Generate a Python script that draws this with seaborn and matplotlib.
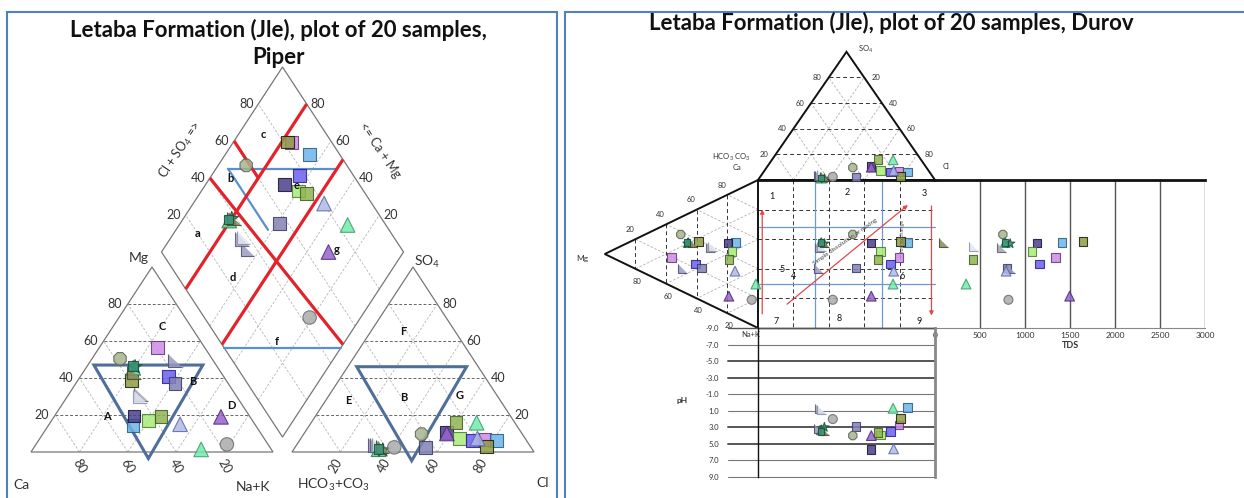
# -*- coding: utf-8 -*-
"""
Letaba Formation (Jle) - Piper and Durov plots of 20 samples
"""

import numpy as np
import seaborn as sns
import matplotlib.pyplot as plt
from matplotlib.patches import Polygon, Rectangle

sns.set_theme(style="white")
plt.rcParams['font.family'] = ['Lato', 'DejaVu Sans']
plt.rcParams['mathtext.fontset'] = 'custom'
plt.rcParams['mathtext.rm'] = 'Lato'
plt.rcParams['mathtext.it'] = 'Lato'
plt.rcParams['mathtext.bf'] = 'Lato:bold'

# -----------------------------
# Sample data (% meq/l), TDS (mg/l), pH axis value
# -----------------------------
samples = [f"JLE{i:02d}" for i in range(1, 21)]
ca   = [19.6, 50.6, 47.7, 43.0, 36.8, 22.8, 22.0, 39.0, 38.0, 35.0, 29.0, 34.0, 15.7, 30.9, 12.0, 17.0, 39.0, 40.0, 36.0, 34.5]
mg   = [56.3, 14.5, 19.5, 17.0, 19.0, 40.9, 37.0, 38.7, 50.4, 45.5, 1.4, 46.0, 49.5, 15.0, 19.0, 4.1, 31.2, 30.0, 43.0, 46.5]
nak  = [24.1, 34.9, 32.8, 40.0, 44.2, 36.3, 41.0, 22.3, 11.6, 19.5, 69.6, 20.0, 34.8, 54.1, 69.0, 78.9, 29.8, 30.0, 21.0, 19.0]
hco3 = [16.9, 12.6, 30.9, 27.0, 24.3, 22.2, 43.5, 18.2, 41.6, 63.5, 15.8, 62.0, 63.8, 19.7, 31.0, 56.5, 63.2, 62.0, 61.0, 63.5]
so4  = [6.8, 6.1, 10.4, 7.3, 15.8, 6.1, 2.5, 2.8, 9.7, 1.5, 15.8, 1.0, 3.8, 7.3, 10.0, 2.5, 3.8, 4.0, 3.0, 1.5]
cl   = [76.3, 81.3, 58.7, 65.7, 59.9, 71.7, 54.0, 79.0, 48.7, 35.0, 68.4, 37.0, 32.4, 73.0, 59.0, 41.0, 33.0, 34.0, 36.0, 35.0]
tds  = [1336, 1410, 1132, 1077, 420, 1161, 798, 1644, 754, 780, 345, 835, 835, 790, 1496, 816, 742, 427, 93, 780]
ph   = [2.7, 0.6, 5.7, 3.9, 3.6, 3.5, 2.9, 1.9, 4.0, 3.3, 0.7, 3.0, 3.2, 5.6, 4.0, 2.0, 0.7, 0.9, 3.4, 3.5]

RT = [(-1, 1), (-1, -1), (1, -1)]   # right-angle triangle marker
marker = ['s', 's', 's', 's', 's', 's', 's', 's', '8', '^',
          '^', '*', RT, '^', '^', 'o', RT, RT, RT, 's']
msize = [1.0, 1.0, 1.0, 1.0, 1.0, 1.0, 1.0, 1.0, 1.1, 1.3,
         1.3, 1.3, 1.1, 1.3, 1.3, 1.1, 1.1, 1.1, 1.1, 0.55]
face = ['#d08ae8', '#6cb4ea', '#4b3f8c', '#a8ec78', '#8fb452', '#6c5ff0', '#8282b4', '#8f9c44', '#a6b48e', '#5fd88f',
        '#72ecab', '#2f8a68', '#9a9ac0', '#b2bae6', '#9564cc', '#ababab', '#a4a4b6', '#e2e4f0', '#8a8a5c', '#3a9478']
edge = ['#5a3a70', '#2a5a80', '#151230', '#4a7a30', '#3f5a20', '#2a2080', '#3a3a60', '#1a1a10', '#5a6050', '#2a7a4a',
        '#3a9a6a', '#1d5040', '#4a4a70', '#5a68a8', '#4a2a7a', '#6a6a6a', '#5a5a70', '#8890b0', '#45452a', '#1a4a38']

# -----------------------------
# Figure / axes helpers (reference pixel layout)
# -----------------------------
W, H = 1244, 498
fig = plt.figure(figsize=(W / 100, H / 100), dpi=100)


def px_axes(x0, y0, x1, y1):
    ax = fig.add_axes([x0 / W, 1 - y1 / H, (x1 - x0) / W, (y1 - y0) / H])
    ax.set_facecolor('none')
    return ax


def draw_points(ax, x, y, size):
    sns.scatterplot(x=np.asarray(x), y=np.asarray(y), hue=samples, style=samples,
                    hue_order=samples, style_order=samples,
                    palette=dict(zip(samples, face)), markers=dict(zip(samples, marker)),
                    s=size * np.array(msize), alpha=0.85, linewidth=0.8, legend=False, ax=ax, zorder=6)
    ax.collections[-1].set_edgecolors(edge)


def seg(ax, p, q, **kw):
    ax.plot([p[0], q[0]], [p[1], q[1]], **kw)


ca, mg, nak = map(np.array, (ca, mg, nak))
hco3, so4, cl = map(np.array, (hco3, so4, cl))

# =============================
# PIPER (x: triangle base = 1, y: triangle height = 1)
# =============================
ax_p = px_axes(7, 12, 557, 498)
ax_p.axis('off')

GAP = 0.0785
DB = (1 + GAP / 2, 0.081)   # diamond bottom vertex
AO = 1 + GAP                # anion triangle origin


def dia(a, c):
    return DB[0] - 0.5 * a + 0.5 * c, DB[1] + a + c


hz_kw = dict(color='#666666', lw=0.7, ls=(0, (3, 2)), zorder=1)
dg_kw = dict(color='#b5b5b5', lw=0.6, ls=(0, (3, 2)), zorder=1)

for ox in (0, AO):
    ax_p.add_patch(Polygon([(ox, 0), (ox + 1, 0), (ox + 0.5, 1)], closed=True, fill=False, ec='#777777', lw=0.9, zorder=2))
    for t in (0.2, 0.4, 0.6, 0.8):
        seg(ax_p, (ox + t / 2, t), (ox + 1 - t / 2, t), **hz_kw)
        seg(ax_p, (ox + t, 0), (ox + t + (1 - t) / 2, 1 - t), **dg_kw)
        seg(ax_p, (ox + 1 - t, 0), (ox + (1 - t) / 2, 1 - t), **dg_kw)

ax_p.add_patch(Polygon([dia(0, 0), dia(1, 0), dia(1, 1), dia(0, 1)], closed=True, fill=False, ec='#777777', lw=0.9, zorder=2))
for t in (0.2, 0.4, 0.6, 0.8):
    seg(ax_p, dia(t, 0), dia(t, 1), **dg_kw)
    seg(ax_p, dia(0, t), dia(1, t), **dg_kw)

# classification lines
red_kw = dict(color='#e3232b', lw=2.3, zorder=4, solid_capstyle='butt')
blue_kw = dict(color='#5b8fcf', lw=1.6, zorder=3)
red_lines = [((0.8, 0.0), (0.8, 1.0)), ((0.5, 0.0), (0.5, 1.0)),
             ((1.0, 0.6), (0.8, 0.6)), ((1.0, 0.4), (0.0, 0.5))]
blue_lines = [((0.95, 0.5), (0.5, 0.95)), ((0.48, 0.0), (0.0, 0.48)), ((0.95, 0.5), (0.62, 0.5))]
for p, q in blue_lines:
    seg(ax_p, dia(*p), dia(*q), **blue_kw)
for p, q in red_lines:
    seg(ax_p, dia(*p), dia(*q), **red_kw)

tri_kw = dict(closed=True, fill=False, ec='#4f6f9a', lw=2.2, zorder=3)
ax_p.add_patch(Polygon([(0.26, 0.47), (0.71, 0.47), (0.485, -0.035)], **tri_kw))
ax_p.add_patch(Polygon([(1.346, 0.461), (1.80, 0.461), (1.573, -0.047)], **tri_kw))

# tick labels
tk = dict(fontsize=9, color='#333333')
for v in (20, 40, 60, 80):
    f = v / 100
    ax_p.text(f / 2 - 0.025, f, str(v), ha='right', va='center', **tk)
    ax_p.text(1 - f, -0.075, str(v), ha='center', va='center', rotation=-60, **tk)
    ax_p.text(AO + f - 0.02, -0.075, str(v), ha='center', va='center', rotation=60, **tk)
    ax_p.text(AO + 1 - f / 2 + 0.02, f, str(v), ha='left', va='center', **tk)
    x, y = dia(1, f)
    ax_p.text(x - 0.02, y, str(v), ha='right', va='center', **tk)
    x, y = dia(f, 1)
    ax_p.text(x + 0.017, y, str(v), ha='left', va='center', **tk)

lab = dict(fontsize=10, color='#333333', ha='center', va='center')
ax_p.text(0.62, 1.632, r'Cl + SO$_4$ =>', rotation=56, **dict(lab, fontsize=9))
ax_p.text(1.442, 1.632, r'<= Ca + Mg', rotation=-56, **dict(lab, fontsize=9))
ax_p.text(0.446, 1.049, 'Mg', **lab)
ax_p.text(1.635, 1.029, r'SO$_4$', **lab)
ax_p.text(-0.041, -0.178, 'Ca', **lab)
ax_p.text(0.917, -0.189, 'Na+K', **lab)
ax_p.text(1.248, -0.178, r'HCO$_3$+CO$_3$', **lab)
ax_p.text(2.116, -0.165, 'Cl', **lab)

regions = {'C': (0.544, 0.681), 'A': (0.313, 0.19), 'B': (0.668, 0.38), 'D': (0.829, 0.254),
           'F': (1.538, 0.654), 'E': (1.311, 0.281), 'G': (1.77, 0.304),
           'c': (0.96, 1.717), 'b': (0.825, 1.479), 'a': (0.689, 1.182), 'd': (0.833, 0.944),
           'e': (1.098, 1.443), 'g': (1.263, 1.092), 'f': (1.015, 0.596)}
for k, (x, y) in regions.items():
    ax_p.text(x, y, k, fontsize=8, weight='bold', ha='center', va='center', color='#111111', zorder=7)
ax_p.text(1.541, 0.294, 'B', fontsize=8, weight='bold', ha='center', va='center', color='#111111', zorder=7)

# sample points
draw_points(ax_p, (nak + mg / 2) / 100, mg / 100, 85)
draw_points(ax_p, AO + (cl + so4 / 2) / 100, so4 / 100, 85)
A = (ca + mg) / 100
C = (cl + so4) / 100
draw_points(ax_p, DB[0] - 0.5 * A + 0.5 * C, DB[1] + A + C, 85)
ax_p.set_xlim((7 - 31) / 242, (557 - 31) / 242)
ax_p.set_ylim((452 - 498) / 185, (452 - 12) / 185)

# =============================
# DUROV (square 0..100, y downward)
# =============================
ax_d = px_axes(565, 12, 1244, 498)
ax_d.axis('off')
S3 = np.sqrt(3) / 2

bdash = dict(color='#333333', lw=0.7, ls=(0, (4, 3)), zorder=2)
gdash = dict(color='#b0b0b0', lw=0.6, ls=(0, (3, 2)), zorder=1)

ax_d.add_patch(Polygon([(0, 0), (100, 0), (50, -100 * S3)], closed=True, fill=False, ec='#111111', lw=1.4, zorder=3))
ax_d.add_patch(Polygon([(0, 0), (0, 100), (-100 * S3, 50)], closed=True, fill=False, ec='#111111', lw=1.4, zorder=3))
seg(ax_d, (0, 100), (100, 100), color='#222222', lw=1.0, zorder=3)
seg(ax_d, (0, 0), (100, 0), color='#111111', lw=2.0, zorder=3)

for t in (20, 40, 60, 80):
    seg(ax_d, (t / 2, -S3 * t), (100 - t / 2, -S3 * t), **bdash)
    seg(ax_d, (t, 0), (t + (100 - t) / 2, -S3 * (100 - t)), **gdash)
    seg(ax_d, (100 - t, 0), ((100 - t) / 2, -S3 * (100 - t)), **gdash)
    seg(ax_d, (-S3 * t, t / 2), (-S3 * t, 100 - t / 2), **bdash)
    seg(ax_d, (0, t), (-S3 * (100 - t), t + (100 - t) / 2), **gdash)
    seg(ax_d, (0, 100 - t), (-S3 * (100 - t), (100 - t) / 2), **gdash)
    seg(ax_d, (t, 0), (t, 100), **bdash)
    seg(ax_d, (0, t), (100, t), **bdash)
for t in (32, 70):
    seg(ax_d, (t, 0), (t, 100), color='#6a9ad0', lw=0.9, zorder=2)
    seg(ax_d, (0, t), (100, t), color='#6a9ad0', lw=0.9, zorder=2)

sm = dict(fontsize=5.5, color='#333333', va='center')
for v in (20, 40, 60, 80):
    ax_d.text(v / 2 - 4, -S3 * v, str(v), ha='right', **sm)
    ax_d.text(100 - v / 2 + 4, -S3 * v, str(100 - v), ha='left', **sm)
    ax_d.text(-S3 * (100 - v) - 3, (100 - v) / 2 - 6.5, str(v), ha='center', **sm)
    ax_d.text(-S3 * v + 1, 100 - v / 2 + 8.5, str(v), ha='center', **sm)
ax_d.text(56.5, -88, r'SO$_4$', ha='left', **sm)
ax_d.text(-14.9, -15.3, r'HCO$_3$ CO$_3$', ha='center', **sm)
ax_d.text(-12, -8.5, 'Ca', ha='center', **sm)
ax_d.text(104.5, -9, 'Cl', ha='left', **sm)
ax_d.text(-99, 53, 'Mg', ha='center', **dict(sm, fontsize=6))
ax_d.text(-4, 104.5, 'Na+K', ha='center', **sm)

fields = {'1': (7.8, 11.3), '2': (50.2, 8.6), '3': (93.7, 9), '4': (20.1, 65.3), '5': (13.4, 60.3),
          '6': (81.3, 65.3), '7': (10.2, 95.7), '8': (46, 93.4), '9': (91, 95.7)}
for k, (x, y) in fields.items():
    ax_d.text(x, y, k, fontsize=6.5, ha='center', va='center', color='#111111', zorder=7)

arr = dict(arrowstyle='-|>', color='#e04848', lw=0.9, mutation_scale=6)
ax_d.annotate('', xy=(2.4, 18), xytext=(2.4, 92.3), arrowprops=arr, zorder=4)
ax_d.annotate('', xy=(85.9, 15.7), xytext=(15.2, 85.1), arrowprops=arr, zorder=4)
ax_d.annotate('', xy=(98, 93.5), xytext=(98, 15.7), arrowprops=arr, zorder=4)
ax_d.text(49, 42, 'Simple dissolution or mixing', rotation=35, fontsize=4.5, color='#444444',
          ha='center', va='center', zorder=7)
ax_d.text(81.5, 38, 'Ion exchange', rotation=90, fontsize=4, color='#555555', ha='center', va='center', zorder=7)

dx = cl + so4 / 2
dy = nak + mg / 2
draw_points(ax_d, dx, -S3 * so4, 38)
draw_points(ax_d, -S3 * mg, dy, 38)
draw_points(ax_d, dx, dy, 38)
ax_d.set_xlim((565 - 758) / 1.77, (1244 - 758) / 1.77)
ax_d.set_ylim((498 - 180) / 1.48, (12 - 180) / 1.48)

# -----------------------------
# TDS panel
# -----------------------------
ax_t = px_axes(935, 180, 1205, 328)
for v in range(500, 3001, 500):
    ax_t.axvline(v, color='#555555', lw=1.0, zorder=1)
draw_points(ax_t, tds, dy, 38)
ax_t.set_xlim(0, 3000)
ax_t.set_ylim(100, 0)
ax_t.set_xticks(range(0, 3001, 500))
ax_t.set_yticks([])
ax_t.tick_params(axis='x', length=0, pad=3, labelsize=6, labelcolor='#333333')
ax_t.set_xlabel('TDS', fontsize=6.5, weight='bold', labelpad=1, color='#333333')
ax_t.set_ylabel('')
for s in ('left', 'right'):
    ax_t.spines[s].set_visible(False)
ax_t.spines['top'].set_color('#111111')
ax_t.spines['top'].set_linewidth(2.0)
ax_t.spines['bottom'].set_color('#888888')
ax_t.spines['bottom'].set_linewidth(0.8)

# -----------------------------
# pH panel
# -----------------------------
ax_ph = px_axes(758, 328, 935, 477)
ph_ticks = list(range(-9, 10, 2))
ph_lw = [1.0, 0.8, 1.4, 1.4, 0.8, 0.8, 1.4, 1.4, 0.8, 0.8]
for v, w in zip(ph_ticks, ph_lw):
    ax_ph.axhline(v, xmin=-0.17, xmax=1, clip_on=False, color='#777777' if w < 1 else '#555555', lw=w, zorder=1)
draw_points(ax_ph, dx, ph, 38)
ax_ph.set_xlim(0, 100)
ax_ph.set_ylim(9, -9)
ax_ph.set_yticks(ph_ticks)
ax_ph.set_yticklabels([f"{v:.1f}" for v in ph_ticks])
ax_ph.set_xticks([])
ax_ph.tick_params(axis='y', length=0, pad=28, labelsize=5.5, labelcolor='#333333')
ax_ph.set_xlabel('')
ax_ph.set_ylabel('')
ax_ph.spines['top'].set_visible(False)
ax_ph.spines['bottom'].set_visible(False)
ax_ph.spines['left'].set_color('#111111')
ax_ph.spines['left'].set_linewidth(1.0)
ax_ph.spines['right'].set_color('#888888')
ax_ph.spines['right'].set_linewidth(2.0)
ax_ph.text(-43, -0.3, 'pH', fontsize=6, weight='bold', ha='center', va='center', color='#333333')

# -----------------------------
# Titles and panel frames
# -----------------------------
ttl = dict(fontsize=16, weight='bold', ha='center', va='center', color='#111111')
fig.text(278 / W, 1 - 30 / H, 'Letaba Formation (Jle), plot of 20 samples,', **ttl)
fig.text(278 / W, 1 - 58 / H, 'Piper', **ttl)
fig.text(891 / W, 1 - 23 / H, 'Letaba Formation (Jle), plot of 20 samples, Durov', **ttl)

for x0, x1 in ((7, 557), (565, 1260)):
    fig.patches.append(Rectangle((x0 / W, -0.05), (x1 - x0) / W, 1.05 - 12 / H, transform=fig.transFigure,
                                 fill=False, ec='#4f81bd', lw=1.5))

fig.savefig('out.png', dpi=100)
